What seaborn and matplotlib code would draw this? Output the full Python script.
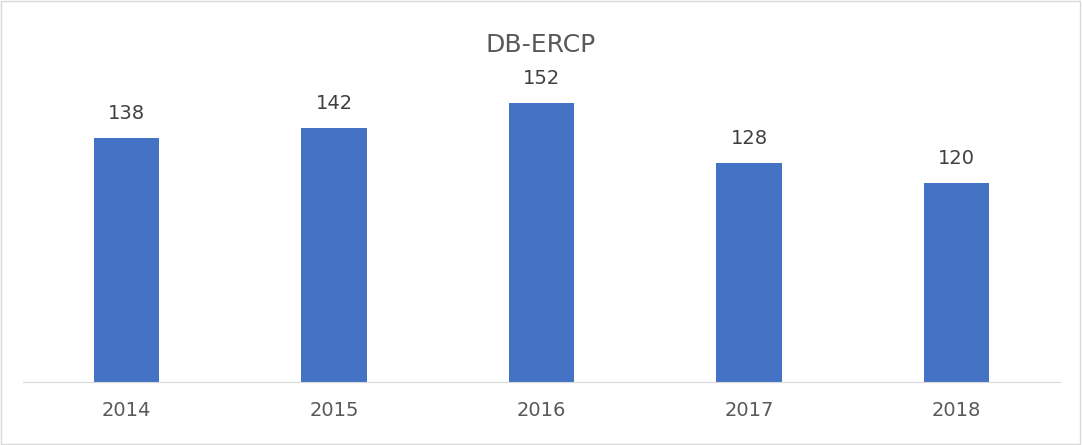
import matplotlib
matplotlib.use("Agg")
import matplotlib.pyplot as plt
import seaborn as sns
import pandas as pd

years = ["2014", "2015", "2016", "2017", "2018"]
values = [138, 142, 152, 128, 120]

df = pd.DataFrame({"year": years, "value": values})
fig = plt.figure(figsize=(10.82, 4.45), dpi=100)
fig.patches.append(plt.Rectangle((0.001, 0.002), 0.997, 0.995, transform=fig.transFigure,
                                 fill=False, edgecolor="#d9d9d9", linewidth=1))
ax = fig.add_axes([0.021, 0.1416, 0.959, 0.8134])
sns.barplot(data=df, x="year", y="value", color="#4472C4", width=0.315, ax=ax, saturation=1)
ax.set_ylim(40.4, 185)
ax.set_xlim(-0.5, 4.5)
for i, v in enumerate(values):
    ax.text(i, v + 6, str(v), ha="center", va="bottom", fontsize=14, color="#404040",
            family="DejaVu Sans")
for s in ["top", "right", "left"]:
    ax.spines[s].set_visible(False)
ax.spines["bottom"].set_color("#d9d9d9")
ax.set_yticks([])
ax.set_xlabel("")
ax.set_ylabel("")
ax.tick_params(axis="x", length=0, labelsize=14, labelcolor="#595959", pad=14)
fig.text(0.5, 0.9, "DB-ERCP", ha="center", va="center", fontsize=18, color="#595959")
fig.savefig("out.png", dpi=100)
